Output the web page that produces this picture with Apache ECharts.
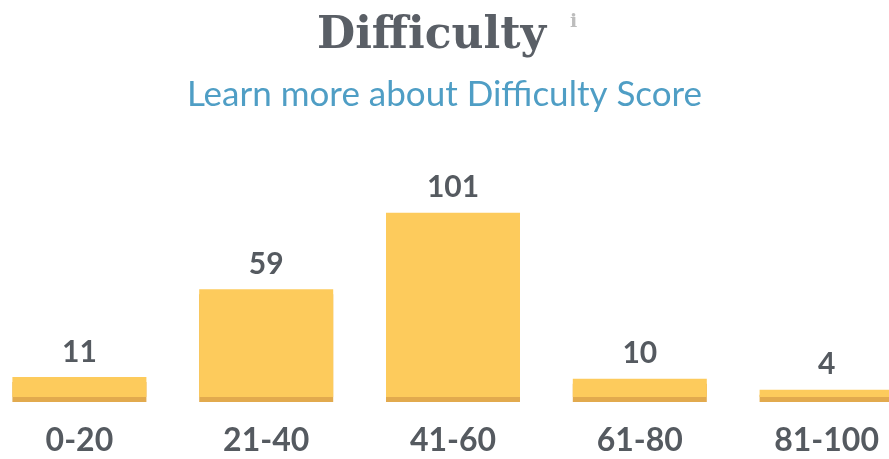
<!DOCTYPE html>
<html>
<head>
<meta charset="utf-8">
<script src="https://cdn.jsdelivr.net/npm/echarts@6/dist/echarts.min.js"></script>
<style>
html,body{margin:0;padding:0;background:#fff;}
#chart{width:889px;height:459px;}
</style>
</head>
<body>
<div id="chart"></div>
<script>
// 难度分布数据
const categories = ['0-20', '21-40', '41-60', '61-80', '81-100']
const counts = [11, 59, 101, 10, 4]
const titleText = 'Difficulty'
const infoText = 'i'
const subText = 'Learn more about Difficulty Score'

let chartObj = echarts.init(document.getElementById('chart'))
let option = {
	animation: false,
	title: [
		{
			text: titleText,
			left: 312,
			top: 10,
			textStyle: {
				fontFamily: 'DejaVu Serif',
				fontWeight: 'bold',
				fontSize: 44,
				color: '#5a5f66'
			}
		},
		{
			text: infoText,
			left: 565,
			top: 8,
			textStyle: {
				fontFamily: 'DejaVu Serif',
				fontWeight: 'bold',
				fontSize: 19,
				color: '#bdbdbd'
			}
		},
		{
			text: subText,
			left: 'center',
			top: 72,
			textStyle: {
				fontFamily: 'Lato',
				fontWeight: 'normal',
				fontSize: 35,
				color: '#4f9ec5'
			}
		}
	],
	grid: {
		left: -14,
		width: 934,
		top: 178,
		bottom: 62,
		containLabel: false,
		outerBoundsMode: 'none'
	},
	xAxis: {
		type: 'category',
		data: categories,
		axisLine: { show: false },
		axisTick: { show: false },
		axisLabel: {
			margin: 28,
			fontFamily: 'Lato',
			fontWeight: 'bold',
			fontSize: 32,
			color: '#555a60',
			interval: 0
		}
	},
	yAxis: {
		type: 'value',
		min: 0,
		max: 120,
		show: false,
		splitLine: { show: false }
	},
	series: [
		{
			type: 'bar',
			data: counts,
			barWidth: 134,
			itemStyle: {
				color: '#fdcb5c',
				shadowColor: '#e2aa4e',
				shadowOffsetY: 5,
				shadowBlur: 0
			},
			label: {
				show: true,
				position: 'top',
				distance: 10,
				fontFamily: 'Lato',
				fontWeight: 'bold',
				fontSize: 30,
				color: '#555a60'
			}
		}
	]
}
option && chartObj.setOption(option)
</script>
</body>
</html>
